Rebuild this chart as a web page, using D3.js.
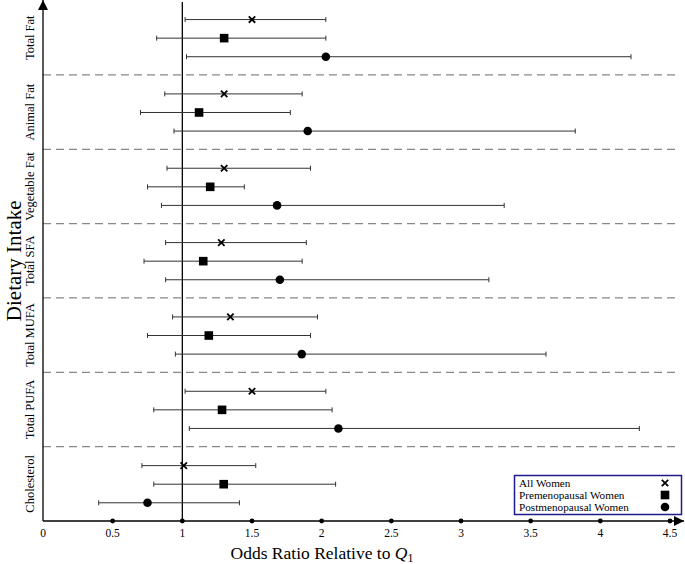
<!DOCTYPE html>
<html>
<head>
<meta charset="utf-8">
<script src="https://cdn.jsdelivr.net/npm/d3@7"></script>
<style>
  body { margin: 0; background: #fff; }
  svg { font-family: "Liberation Serif", "DejaVu Serif", serif; }
</style>
</head>
<body>
<div id="chart"></div>
<script>
// categories, top to bottom
const categories = ["Total Fat", "Animal Fat", "Vegetable Fat", "Total SFA", "Total MUFA", "Total PUFA", "Cholesterol"];
const seriesNames = ["All Women", "Premenopausal Women", "Postmenopausal Women"];
const xTicks = [0, 0.5, 1, 1.5, 2, 2.5, 3, 3.5, 4, 4.5];

// odds ratios and 95% CI per series, in category order
const allOR = [1.50, 1.30, 1.30, 1.28, 1.345, 1.50, 1.01];
const allLo = [1.02, 0.874, 0.89, 0.88, 0.93, 1.02, 0.71];
const allHi = [2.03, 1.86, 1.92, 1.89, 1.97, 2.03, 1.527];

const preOR = [1.30, 1.12, 1.20, 1.15, 1.19, 1.285, 1.297];
const preLo = [0.816, 0.70, 0.75, 0.725, 0.75, 0.795, 0.795];
const preHi = [2.03, 1.775, 1.445, 1.86, 1.92, 2.075, 2.10];

const postOR = [2.03, 1.90, 1.68, 1.70, 1.857, 2.12, 0.75];
const postLo = [1.03, 0.94, 0.85, 0.88, 0.95, 1.05, 0.40];
const postHi = [4.22, 3.82, 3.31, 3.20, 3.61, 4.28, 1.41];

const series = [
  { name: seriesNames[0], or: allOR, lo: allLo, hi: allHi, shape: "cross" },
  { name: seriesNames[1], or: preOR, lo: preLo, hi: preHi, shape: "square" },
  { name: seriesNames[2], or: postOR, lo: postLo, hi: postHi, shape: "circle" }
];

const W = 685, H = 564;
const mLeft = 43, mRight = 670, mTop = 0.6, mBottom = 521;

const svg = d3.select("#chart").append("svg")
  .attr("width", W)
  .attr("height", H);

const x = d3.scaleLinear().domain([0, 4.5]).range([mLeft, mRight]);
const yGroup = d3.scaleBand().domain(categories).range([mTop, mBottom]);
const yRow = d3.scalePoint().domain([0, 1, 2]).range([0.255, 0.755]);
const rowY = (cat, i) => yGroup(cat) + yRow(i) * yGroup.bandwidth();

// dashed separators
svg.append("g").selectAll("line")
  .data(categories.slice(1))
  .join("line")
  .attr("x1", mLeft).attr("x2", 680)
  .attr("y1", d => yGroup(d)).attr("y2", d => yGroup(d))
  .attr("stroke", "#888")
  .attr("stroke-width", 1.2)
  .attr("stroke-dasharray", "8,5");

// reference line at OR = 1
svg.append("line")
  .attr("x1", x(1)).attr("x2", x(1))
  .attr("y1", 2).attr("y2", mBottom)
  .attr("stroke", "#000").attr("stroke-width", 1.3);

// axes with arrows
svg.append("defs").append("marker")
  .attr("id", "arrow")
  .attr("viewBox", "0 0 10 10")
  .attr("refX", 10).attr("refY", 5)
  .attr("markerWidth", 10).attr("markerHeight", 10)
  .attr("markerUnits", "userSpaceOnUse")
  .attr("orient", "auto")
  .append("path").attr("d", "M0,0L10,5L0,10z").attr("fill", "#000");

svg.append("line")
  .attr("x1", mLeft).attr("x2", 684)
  .attr("y1", mBottom).attr("y2", mBottom)
  .attr("stroke", "#000").attr("stroke-width", 1.3)
  .attr("marker-end", "url(#arrow)");

svg.append("line")
  .attr("x1", mLeft).attr("x2", mLeft)
  .attr("y1", mBottom).attr("y2", 0)
  .attr("stroke", "#000").attr("stroke-width", 1.3)
  .attr("marker-end", "url(#arrow)");

// ticks: dots and labels
svg.append("g").selectAll("circle")
  .data(xTicks.filter(d => d > 0))
  .join("circle")
  .attr("cx", d => x(d)).attr("cy", mBottom).attr("r", 2.4)
  .attr("fill", "#000");

svg.append("g").selectAll("text")
  .data(xTicks)
  .join("text")
  .attr("x", d => x(d)).attr("y", 537)
  .attr("text-anchor", "middle")
  .attr("font-size", 11.5)
  .text(d => d);

// axis titles
const xt = svg.append("text")
  .attr("x", 322).attr("y", 559)
  .attr("text-anchor", "middle")
  .attr("font-size", 17.5);
xt.append("tspan").text("Odds Ratio Relative to ");
xt.append("tspan").attr("font-style", "italic").text("Q");
xt.append("tspan").attr("font-size", 12).attr("dy", 3).text("1");

svg.append("text")
  .attr("transform", `translate(21,${(mTop + mBottom) / 2}) rotate(-90)`)
  .attr("text-anchor", "middle")
  .attr("font-size", 21)
  .text("Dietary Intake");

// category labels
svg.append("g").selectAll("text")
  .data(categories)
  .join("text")
  .attr("transform", d => `translate(34,${yGroup(d) + yGroup.bandwidth() / 2}) rotate(-90)`)
  .attr("text-anchor", "middle")
  .attr("font-size", 12.5)
  .text(d => d);

function drawMarker(g, shape, cx, cy) {
  if (shape === "cross") {
    const s = 3.2;
    g.append("path")
      .attr("d", `M${cx - s},${cy - s}L${cx + s},${cy + s}M${cx - s},${cy + s}L${cx + s},${cy - s}`)
      .attr("stroke", "#000").attr("stroke-width", 1.8);
  } else if (shape === "square") {
    g.append("rect")
      .attr("x", cx - 4.3).attr("y", cy - 4.3)
      .attr("width", 8.6).attr("height", 8.6)
      .attr("fill", "#000");
  } else {
    g.append("circle").attr("cx", cx).attr("cy", cy).attr("r", 4.3).attr("fill", "#000");
  }
}

// error bars and points
series.forEach((s, i) => {
  const g = svg.append("g");
  categories.forEach((cat, j) => {
    const cy = rowY(cat, i);
    g.append("line")
      .attr("x1", x(s.lo[j])).attr("x2", x(s.hi[j]))
      .attr("y1", cy).attr("y2", cy)
      .attr("stroke", "#333").attr("stroke-width", 1);
    [s.lo[j], s.hi[j]].forEach(v => {
      g.append("line")
        .attr("x1", x(v)).attr("x2", x(v))
        .attr("y1", cy - 2.5).attr("y2", cy + 2.5)
        .attr("stroke", "#333").attr("stroke-width", 1);
    });
    drawMarker(g, s.shape, x(s.or[j]), cy);
  });
});

// legend
const lg = svg.append("g");
lg.append("rect")
  .attr("x", 514.5).attr("y", 475.5)
  .attr("width", 167).attr("height", 39)
  .attr("fill", "#fff")
  .attr("stroke", "#1c1c8c").attr("stroke-width", 1.5);
series.forEach((s, i) => {
  const cy = 483 + i * 12;
  lg.append("text")
    .attr("x", 519).attr("y", cy + 3.8)
    .attr("font-size", 11.2)
    .attr("textLength", 118)
    .attr("lengthAdjust", "spacing")
    .attr("textLength", null)
    .text(s.name);
  drawMarker(lg, s.shape, 665, cy);
});
</script>
</body>
</html>
